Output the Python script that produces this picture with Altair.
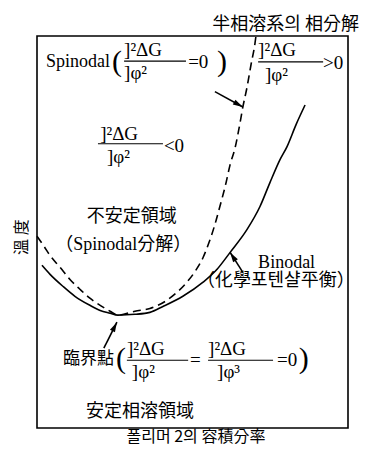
import math
import altair as alt
import pandas as pd

W, H = 311, 392

# ---------------- data (x: volume fraction of polymer 2, y: normalized temperature) ----------------
spin_phi = [0.000, 0.023, 0.042, 0.074, 0.106, 0.138, 0.170, 0.203, 0.235, 0.260,
            0.315, 0.363, 0.412, 0.450, 0.482, 0.508, 0.534, 0.553, 0.572, 0.588,
            0.605, 0.621, 0.637, 0.650, 0.662, 0.675, 0.688, 0.701, 0.704]
spin_T = [0.489, 0.463, 0.440, 0.410, 0.379, 0.354, 0.331, 0.313, 0.298, 0.288,
          0.298, 0.305, 0.323, 0.346, 0.372, 0.399, 0.435, 0.473, 0.519, 0.565,
          0.616, 0.672, 0.715, 0.766, 0.819, 0.868, 0.926, 0.982, 1.000]

bin_phi = [0.016, 0.042, 0.084, 0.122, 0.170, 0.203, 0.235, 0.260,
           0.315, 0.363, 0.405, 0.469, 0.534, 0.579, 0.621, 0.675, 0.717, 0.749,
           0.781, 0.804, 0.833, 0.862]
bin_T = [0.415, 0.392, 0.361, 0.336, 0.313, 0.300, 0.293, 0.288,
         0.290, 0.295, 0.310, 0.336, 0.372, 0.405, 0.448, 0.506, 0.565, 0.626,
         0.684, 0.718, 0.774, 0.824]

title_text = ["半相溶系의 相分解"]
title_x = [1.035]
title_y = [1.028]

x_title = ["폴리머 2의 容積分率"]
x_title_x = [0.511]
x_title_y = [-0.023]
y_title = ["溫 度"]
y_title_x = [-0.048]
y_title_y = [0.487]

latin_labels = ["Spinodal", "Binodal"]
latin_x = [0.029, 0.711]
latin_y = [0.934, 0.422]

cjk_labels = ["不安定領域", "安定相溶領域"]
cjk_x = [0.305, 0.331]
cjk_y = [0.539, 0.041]

paren_labels = ["（Spinodal分解）", "（化學포텐샬平衡）"]
paren_x = [0.277, 0.768]
paren_y = [0.466, 0.374]

crit_labels = ["臨界點"]
crit_x = [0.084]
crit_y = [0.176]

num_labels = ["]²ΔG", "]²ΔG", "]²ΔG", "]²ΔG", "]²ΔG"]
num_x = [0.280, 0.711, 0.203, 0.289, 0.550]
num_y = [0.964, 0.964, 0.751, 0.201, 0.201]
den_labels = ["]φ²", "]φ²", "]φ²", "]φ²", "]φ³"]
den_x = [0.280, 0.733, 0.225, 0.305, 0.579]
den_y = [0.906, 0.901, 0.692, 0.142, 0.142]
bar_x1 = [0.280, 0.711, 0.196, 0.289, 0.550]
bar_x2 = [0.479, 0.920, 0.405, 0.486, 0.759]
bar_y = [0.936, 0.934, 0.725, 0.173, 0.173]
rel_labels = ["=0", ">0", "<0", "=", "=0"]
rel_x = [0.486, 0.920, 0.408, 0.492, 0.772]
rel_y = [0.934, 0.931, 0.720, 0.173, 0.173]
bracket_labels = ["(", ")", "(", ")"]
bracket_x = [0.241, 0.579, 0.254, 0.842]
bracket_y = [0.934, 0.934, 0.176, 0.176]

arrow_x1 = [0.572, 0.662, 0.215]
arrow_y1 = [0.858, 0.397, 0.204]
arrow_x2 = [0.662, 0.621, 0.257]
arrow_y2 = [0.819, 0.448, 0.270]

# ---------------- chart ----------------
SERIF = "Liberation Serif, Noto Sans CJK KR"
CJK = "Noto Sans CJK KR"

xs = alt.Scale(domain=[0, 1], nice=False, zero=False)
ys = alt.Scale(domain=[0, 1], nice=False, zero=False)

spin_df = pd.DataFrame({"phi": spin_phi, "T": spin_T, "i": range(len(spin_phi))})
bin_df = pd.DataFrame({"phi": bin_phi, "T": bin_T, "i": range(len(bin_phi))})

spinodal = alt.Chart(spin_df).mark_line(color="black", strokeWidth=1.6, strokeDash=[8, 5],
                                        interpolate="monotone").encode(
    x=alt.X("phi:Q", scale=xs, axis=None),
    y=alt.Y("T:Q", scale=ys, axis=None),
    order="i:Q")

binodal = alt.Chart(bin_df).mark_line(color="black", strokeWidth=1.6, interpolate="monotone").encode(
    x=alt.X("phi:Q", scale=xs, axis=None),
    y=alt.Y("T:Q", scale=ys, axis=None),
    order="i:Q")


def text_layer(labels, px, py, size, font, align="left", angle=0):
    df = pd.DataFrame({"label": labels, "x": px, "y": py})
    return alt.Chart(df).mark_text(align=align, baseline="middle", fontSize=size, font=font,
                                   fontWeight="normal", color="black", angle=angle).encode(
        x=alt.X("x:Q", scale=xs, axis=None),
        y=alt.Y("y:Q", scale=ys, axis=None),
        text="label:N")


bars_df = pd.DataFrame({"x1": bar_x1, "x2": bar_x2, "y": bar_y})
bars = alt.Chart(bars_df).mark_rule(color="black", strokeWidth=1.1).encode(
    x=alt.X("x1:Q", scale=xs, axis=None), x2="x2:Q",
    y=alt.Y("y:Q", scale=ys, axis=None))

ang = []
for a, b, c, d in zip(arrow_x1, arrow_y1, arrow_x2, arrow_y2):
    ang.append(math.degrees(math.atan2((c - a) * W, (d - b) * H)) % 360)
arr_df = pd.DataFrame({"x1": arrow_x1, "y1": arrow_y1, "x2": arrow_x2, "y2": arrow_y2, "ang": ang})
arrow_lines = alt.Chart(arr_df).mark_rule(color="black", strokeWidth=1.6).encode(
    x=alt.X("x1:Q", scale=xs, axis=None), x2="x2:Q",
    y=alt.Y("y1:Q", scale=ys, axis=None), y2="y2:Q")
arrow_heads = alt.Chart(arr_df).mark_point(filled=True, color="black", opacity=1, strokeWidth=0,
                                           shape="M0,0 L0.28,1 L-0.28,1 Z", size=400).encode(
    x=alt.X("x2:Q", scale=xs, axis=None),
    y=alt.Y("y2:Q", scale=ys, axis=None),
    angle=alt.Angle("ang:Q", scale=None))

layers = [
    spinodal, binodal, bars, arrow_lines, arrow_heads,
    text_layer(title_text, title_x, title_y, 18, CJK, align="right"),
    text_layer(x_title, x_title_x, x_title_y, 16, CJK, align="center"),
    text_layer(y_title, y_title_x, y_title_y, 16, CJK, align="center", angle=270),
    text_layer(latin_labels, latin_x, latin_y, 18, SERIF),
    text_layer(cjk_labels, cjk_x, cjk_y, 18, CJK, align="center"),
    text_layer(paren_labels, paren_x, paren_y, 18, SERIF, align="center"),
    text_layer(crit_labels, crit_x, crit_y, 17, CJK),
    text_layer(num_labels, num_x, num_y, 19, SERIF),
    text_layer(den_labels, den_x, den_y, 19, SERIF),
    text_layer(rel_labels, rel_x, rel_y, 19, SERIF),
    text_layer(bracket_labels, bracket_x, bracket_y, 30, SERIF),
]

chart = alt.layer(*layers).properties(
    width=W, height=H,
    autosize=alt.AutoSizeParams(type="none"),
    padding={"left": 29, "top": 28, "right": 20, "bottom": 18},
    background="white",
).configure_view(stroke="black", strokeWidth=1.6)

chart.save("out.html", embed_options={"renderer": "svg", "actions": False})
